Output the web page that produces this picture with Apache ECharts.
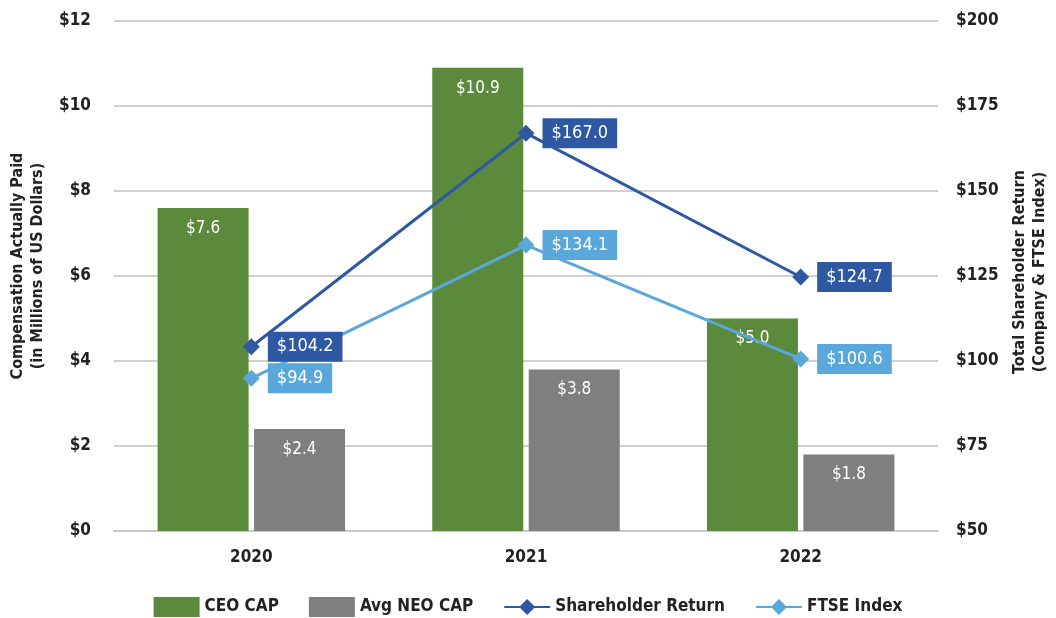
<!DOCTYPE html>
<html>
<head>
<meta charset="utf-8">
<script src="https://cdn.jsdelivr.net/npm/echarts@6/dist/echarts.min.js"></script>
<style>
  html, body { margin: 0; padding: 0; background: #fff; }
  #chart { width: 1056px; height: 618px; }
</style>
</head>
<body>
<div id="chart"></div>
<script>
const years = ["2020", "2021", "2022"];
const ceoCap = [7.6, 10.9, 5.0];
const neoCap = [2.4, 3.8, 1.8];
const shareholderReturn = [104.2, 167.0, 124.7];
const ftseIndex = [94.9, 134.1, 100.6];

const FONT = "'Liberation Sans Narrow', 'DejaVu Sans Condensed', sans-serif";
const GREEN = "#5b8a3c";
const GRAY = "#7f7f7f";
const DARK_BLUE = "#2f58a3";
const LIGHT_BLUE = "#5aa7db";

const chart = echarts.init(document.getElementById("chart"));

const barLabel = {
  show: true,
  position: "insideTop",
  distance: 12,
  color: "#fff",
  fontFamily: FONT,
  fontSize: 17,
  formatter: (p) => "$" + p.value.toFixed(1),
};

const lineLabel = (bg) => ({
  show: true,
  position: "right",
  distance: 8,
  color: "#fff",
  backgroundColor: bg,
  padding: [7, 9, 5, 9],
  fontFamily: FONT,
  fontSize: 18,
  formatter: (p) => "$" + p.value.toFixed(1),
});

const option = {
  animation: false,
  textStyle: { fontFamily: FONT },
  grid: { left: 114, right: 118, top: 21, bottom: 87, outerBoundsMode: "none" },
  legend: {
    top: 592,
    left: "center",
    itemGap: 30,
    itemWidth: 46,
    itemHeight: 20,
    textStyle: { fontFamily: FONT, fontSize: 17, fontWeight: "bold", color: "#222" },
    data: [
      { name: "CEO CAP", icon: "rect" },
      { name: "Avg NEO CAP", icon: "rect" },
      { name: "Shareholder Return" },
      { name: "FTSE Index" },
    ],
  },
  xAxis: {
    type: "category",
    data: years,
    axisLine: { lineStyle: { color: "#c8c8c8", width: 2 } },
    axisTick: { show: false },
    axisLabel: { color: "#222", fontSize: 17, fontWeight: "bold", margin: 18, fontFamily: FONT },
  },
  yAxis: [
    {
      type: "value",
      min: 0,
      max: 12,
      interval: 2,
      name: "Compensation Actually Paid\n(in Millions of US Dollars)",
      nameLocation: "middle",
      nameGap: 64,
      nameTextStyle: { color: "#222", fontSize: 16, fontWeight: "bold", fontFamily: FONT, lineHeight: 20, padding: [0, 0, 0, 20] },
      axisLabel: { color: "#222", fontSize: 17, fontWeight: "bold", margin: 23, fontFamily: FONT, formatter: (v) => "$" + v },
      axisLine: { show: false },
      axisTick: { show: false },
      splitLine: { lineStyle: { color: "#d0d0d0", width: 2 } },
    },
    {
      type: "value",
      min: 50,
      max: 200,
      interval: 25,
      name: "Total Shareholder Return\n(Company & FTSE Index)",
      nameLocation: "middle",
      nameGap: 72,
      nameRotate: 90,
      nameTextStyle: { color: "#222", fontSize: 16, fontWeight: "bold", fontFamily: FONT, lineHeight: 20, padding: [0, 0, 0, 8] },
      axisLabel: { color: "#222", fontSize: 17, fontWeight: "bold", margin: 18, fontFamily: FONT, formatter: (v) => "$" + v },
      axisLine: { show: false },
      axisTick: { show: false },
      splitLine: { show: false },
    },
  ],
  series: [
    {
      name: "CEO CAP",
      type: "bar",
      data: ceoCap,
      barWidth: 91,
      barGap: "6%",
      itemStyle: { color: GREEN },
      label: barLabel,
    },
    {
      name: "Avg NEO CAP",
      type: "bar",
      data: neoCap,
      barWidth: 91,
      itemStyle: { color: GRAY },
      label: barLabel,
    },
    {
      name: "Shareholder Return",
      type: "line",
      yAxisIndex: 1,
      data: shareholderReturn,
      symbol: "diamond",
      symbolSize: 17,
      lineStyle: { color: DARK_BLUE, width: 3 },
      itemStyle: { color: DARK_BLUE },
      label: lineLabel(DARK_BLUE),
    },
    {
      name: "FTSE Index",
      type: "line",
      yAxisIndex: 1,
      data: ftseIndex,
      symbol: "diamond",
      symbolSize: 17,
      lineStyle: { color: LIGHT_BLUE, width: 3 },
      itemStyle: { color: LIGHT_BLUE },
      label: lineLabel(LIGHT_BLUE),
    },
  ],
};

chart.setOption(option);
</script>
</body>
</html>
